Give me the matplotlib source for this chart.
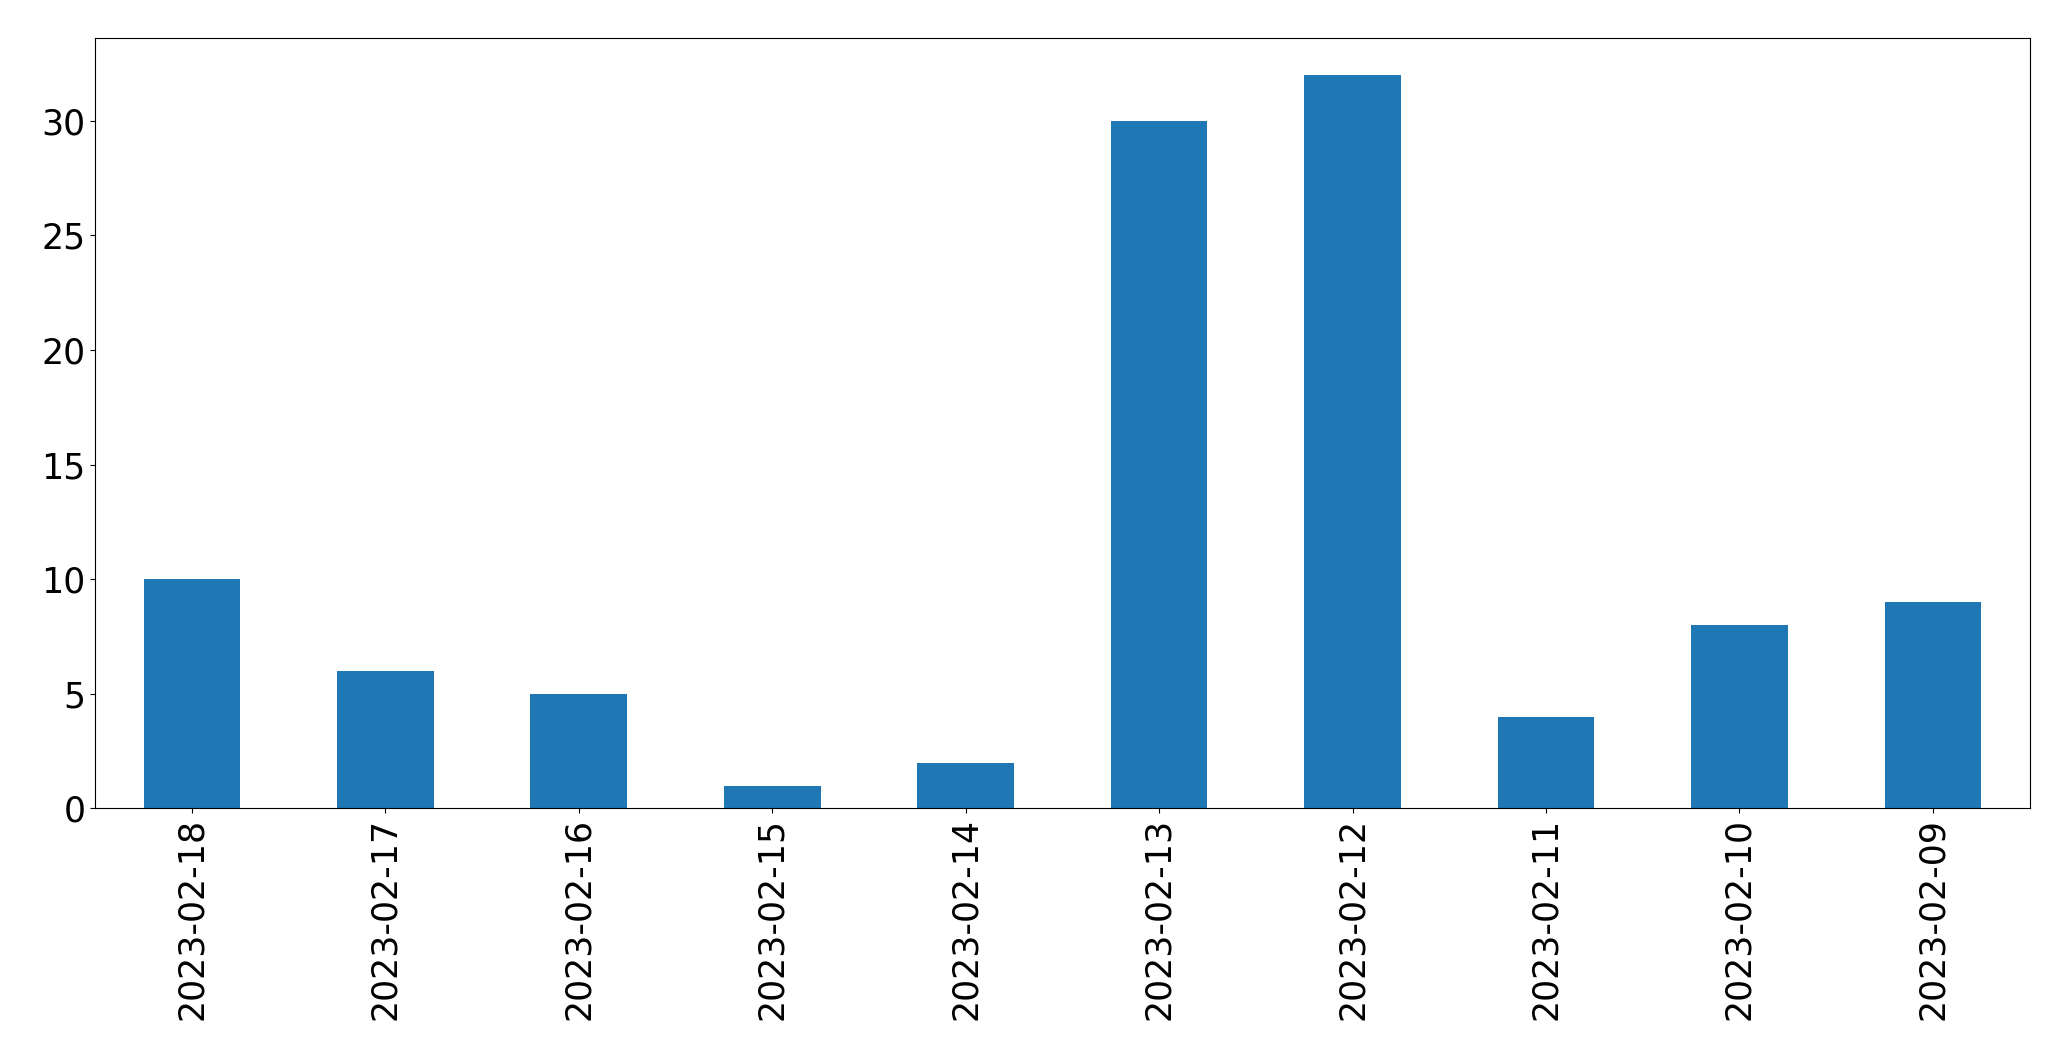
import matplotlib
matplotlib.use("Agg")
import matplotlib.pyplot as plt
import numpy as np

dates = ["2023-02-18", "2023-02-17", "2023-02-16", "2023-02-15", "2023-02-14",
         "2023-02-13", "2023-02-12", "2023-02-11", "2023-02-10", "2023-02-09"]
counts = [10, 6, 5, 1, 2, 30, 32, 4, 8, 9]

fig, ax = plt.subplots(figsize=(20.71, 10.61), dpi=100)
fig.subplots_adjust(left=0.046, right=0.980, top=0.964, bottom=0.238)
x = np.arange(len(dates))
ax.bar(x, counts, width=0.5, color="#1f77b4")
ax.set_xlim(-0.5, len(dates) - 0.5)
ax.set_ylim(0, max(counts) * 1.05)
ax.set_xticks(x)
ax.set_xticklabels(dates, rotation=90)
ax.tick_params(labelsize=25)
fig.savefig("out.png", dpi=100)
